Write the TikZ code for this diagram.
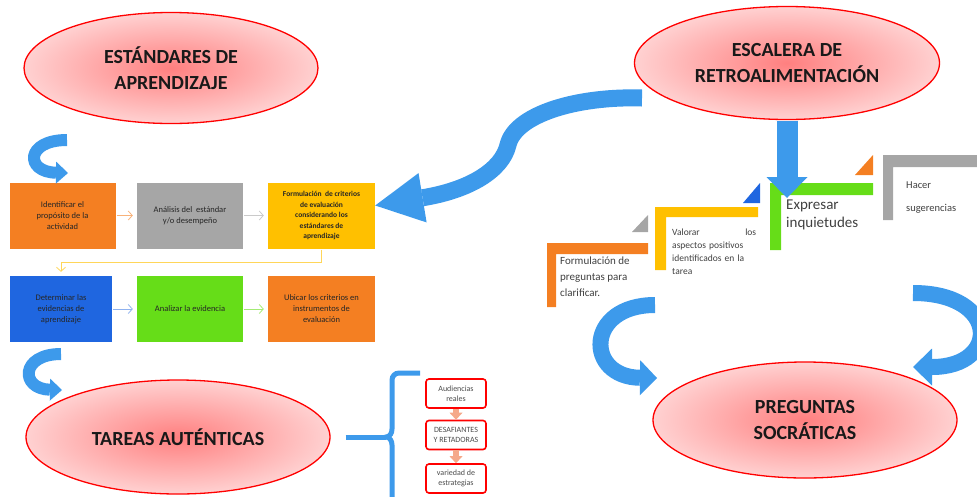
\documentclass[tikz,border=0pt]{standalone}
\usepackage{fontspec}
\setmainfont{Carlito}
\usetikzlibrary{arrows.meta,shapes.geometric}
\definecolor{flecha}{HTML}{3D9AEB}
\definecolor{naranja}{HTML}{F47F22}
\definecolor{gris}{HTML}{A6A6A6}
\definecolor{amarillo}{HTML}{FFC000}
\definecolor{azulc}{HTML}{1F66E0}
\definecolor{verde}{HTML}{66DD18}
\definecolor{salmon}{HTML}{F5A98A}
\definecolor{texto}{HTML}{404040}
\begin{document}
\begin{tikzpicture}[x=1pt,y=-1pt,>=stealth,
  titulo/.style={ellipse,draw=red,line width=1.3pt,inner color=red!50,outer color=red!18,
    align=center,font=\fontsize{20}{26}\selectfont\bfseries,text=black!90},
  caja/.style={minimum width=106pt,minimum height=66pt,align=center,inner sep=1pt,
    font=\fontsize{8.5}{11}\selectfont,text=black!85},
  fina/.style={-{Straight Barb[length=4pt,width=9pt]},line width=0.8pt,shorten <=1pt,shorten >=4pt},
  roja/.style={draw=red,line width=1.6pt,rounded corners=3pt,fill=white,minimum width=60pt,
    minimum height=29pt,align=center,font=\fontsize{8}{10}\selectfont,text=black!70,inner sep=1pt},
  bloque/.style={draw=salmon,line width=6pt,-{Triangle[length=7pt,width=13pt,line width=0pt]}},
  llave/.style={draw=flecha,line width=5pt},
  peldano/.style={anchor=north west,align=left,inner sep=0pt,text=texto}]
\useasboundingbox (0,0) rectangle (977,496);
\clip (0,0) rectangle (977,496);

% escalera
\fill[naranja] (547,243) -- (648,243) -- (648,254) -- (556,254) -- (556,307) -- (547,307) -- cycle;
\fill[gris] (632,232) -- (648,232) -- (648,215) -- cycle;
\fill[amarillo] (655,207) -- (758,207) -- (758,217) -- (666,217) -- (666,270) -- (655,270) -- cycle;
\fill[azulc] (743,203) -- (760,203) -- (760,183) -- cycle;
\fill[verde] (770,183) -- (873,183) -- (873,195) -- (781,195) -- (781,250) -- (770,250) -- cycle;
\fill[naranja] (855,175) -- (873,175) -- (873,155) -- cycle;
\fill[gris] (883,155) -- (980,155) -- (980,167) -- (893,167) -- (893,220) -- (883,220) -- cycle;
\node[peldano,font=\fontsize{11}{16}\selectfont] (p1) at (560,257) {Formulación de\\preguntas para\\clarificar.};
\node[peldano,font=\fontsize{9.5}{13}\selectfont,text width=84pt] (p2) at (672,229) {Valorar\hfill los\\aspectos positivos\\identificados en la\\tarea};
\node[peldano,font=\fontsize{15}{18}\selectfont] (p3) at (786,200) {Expresar\\inquietudes};
\node[peldano,font=\fontsize{10.5}{23}\selectfont] (p4) at (906,182) {Hacer\\sugerencias};

% elipses
\node[titulo,minimum width=294pt,minimum height=111pt] (estandares) at (171,68) {ESTÁNDARES DE\\APRENDIZAJE};
\node[titulo,minimum width=305pt,minimum height=113pt] (escalera) at (787,63) {ESCALERA DE\\RETROALIMENTACIÓN};
\node[titulo,minimum width=304pt,minimum height=114pt] (tareas) at (178,437) {TAREAS AUTÉNTICAS};
\node[titulo,minimum width=304pt,minimum height=116pt] (socraticas) at (805,420) {PREGUNTAS\\SOCRÁTICAS};

% cajas
\node[caja,fill=naranja] (b1) at (62.5,215.5) {Identificar el\\propósito de la\\actividad};
\node[caja,fill=gris] (b2) at (190,215.5) {Análisis del\ \ estándar\\y/o desempeño};
\node[caja,fill=amarillo,minimum width=107pt,font=\fontsize{7.5}{10.5}\selectfont\bfseries] (b3) at (321.5,215.5)
  {Formulación\ \ de criterios\\de evaluación\\considerando los\\estándares de\\aprendizaje};
\node[caja,fill=azulc,minimum width=102pt] (b4) at (61,309) {Determinar las\\evidencias de\\aprendizaje};
\node[caja,fill=verde] (b5) at (190,309) {Analizar la evidencia};
\node[caja,fill=naranja,minimum width=107pt] (b6) at (321.5,309) {Ubicar los criterios en\\instrumentos de\\evaluación};
\draw[fina,draw=naranja!60] (b1) -- (b2);
\draw[fina,draw=gris!60] (b2) -- (b3);
\draw[fina,draw=amarillo!65] (b3.south) -- ++(0,14) -| (b4.north);
\draw[fina,draw=azulc!50] (b4) -- (b5);
\draw[fina,draw=verde!60] (b5) -- (b6);

% flechas curvas
\coordinate (inicioS) at (642,98);
\coordinate (baja) at (787,198);
\draw[draw=flecha,line width=17pt,-{Triangle[length=48pt,width=50pt,line width=0pt]}]
  (inicioS) .. controls (575,96) and (515,115) .. (508,145)
  .. controls (502,170) and (470,190) .. ([yshift=10pt]b3.east);
\draw[draw=flecha,line width=21pt,shorten <=1pt,-{Triangle[length=21pt,width=41pt,line width=0pt]}]
  (escalera.south) -- (baja);
\draw[draw=flecha,line width=12pt,-{Triangle[length=12pt,width=22pt,line width=0pt]}]
  (67,140) .. controls (25,140) and (25,172) .. (68,173);
\draw[draw=flecha,line width=12pt,-{Triangle[length=12pt,width=22pt,line width=0pt]}]
  (61,354) .. controls (20,354) and (20,389) .. (62,390);
\draw[draw=flecha,line width=16pt,-{Triangle[length=17pt,width=35pt,line width=0pt]}]
  (655,305) .. controls (585,305) and (585,377) .. (657,378);
\draw[draw=flecha,line width=16pt,-{Triangle[length=19pt,width=37pt,line width=0pt]}]
  (913,293) .. controls (1000,293) and (1000,367) .. (913,367);

% llave y cajas rojas
\coordinate (tip) at (386,437);
\draw[llave,shorten <=15pt] (tareas.east) -- (tip);
\draw[llave] (420,373) -- (399,373) to[out=180,in=90] (392,380) -- (392,429)
  to[out=-90,in=0] (tip) to[out=0,in=90] (392,445) -- (392,500);
\node[roja] (audiencias) at (456,393.5) {Audiencias\\reales};
\node[roja] (desafiantes) at (456,435) {DESAFIANTES\\Y RETADORAS};
\node[roja] (variedad) at (456,478.5) {variedad de\\estrategias};
\draw[bloque] (audiencias) -- (desafiantes);
\draw[bloque] (desafiantes) -- (variedad);
\end{tikzpicture}
\end{document}
